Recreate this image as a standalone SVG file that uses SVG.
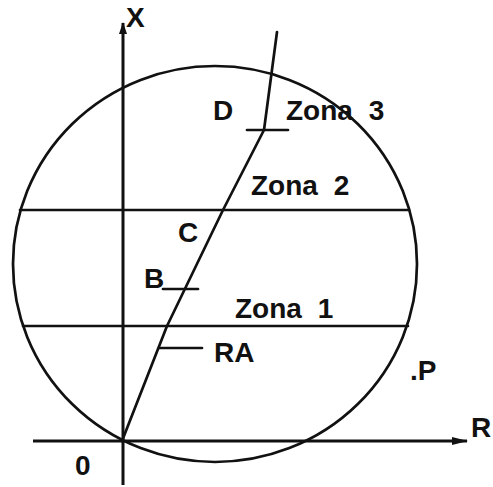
<svg xmlns="http://www.w3.org/2000/svg" width="493" height="487" viewBox="0 0 493 487">
  <style>
    .ln { fill: none; stroke: #111; stroke-width: 2.7; stroke-linecap: round; stroke-linejoin: round; }
    .ax { fill: none; stroke: #111; stroke-width: 3; }
    .tx { font-family: "Liberation Sans", Arial, sans-serif; font-size: 28px; font-weight: bold; fill: #111; }
    .zn { word-spacing: 8px; }
  </style>
  <defs>
    <marker id="arr" viewBox="0 0 12 8" refX="11" refY="4" markerWidth="12" markerHeight="8" markerUnits="userSpaceOnUse" orient="auto">
      <path d="M0,0 L12,4 L0,8 Z" fill="#111"/>
    </marker>
    <marker id="arrR" viewBox="0 0 16 9" refX="15" refY="4.5" markerWidth="16" markerHeight="9" markerUnits="userSpaceOnUse" orient="auto">
      <path d="M0,0.5 L16,4.5 L0,8.5 Z" fill="#111"/>
    </marker>
  </defs>

  <g id="circle">
    <ellipse class="ln" cx="215" cy="264" rx="202" ry="198"/>
  </g>

  <g id="zone-lines">
    <line class="ln" x1="20" y1="210" x2="409" y2="210"/>
    <line class="ln" x1="23" y1="326" x2="408" y2="326"/>
  </g>

  <g id="axes">
    <line class="ax" x1="123" y1="485" x2="123" y2="23" marker-end="url(#arr)"/>
    <line class="ax" x1="33" y1="441" x2="467" y2="441" marker-end="url(#arrR)"/>
  </g>

  <g id="connectors">
    <polyline class="ln" stroke-width="3" points="122,441 167,326 223,210 264,130 277,32"/>
    <line class="ln" x1="247" y1="130" x2="288" y2="130"/>
    <line class="ln" x1="163" y1="289" x2="198" y2="289"/>
    <line class="ln" x1="159" y1="348" x2="202" y2="348"/>
  </g>

  <g id="labels">
    <text class="tx" x="126" y="27">X</text>
    <text class="tx" x="213" y="120">D</text>
    <text class="tx zn" x="286" y="120">Zona 3</text>
    <text class="tx zn" x="251" y="195">Zona 2</text>
    <text class="tx" x="178" y="242">C</text>
    <text class="tx" x="144" y="288">B</text>
    <text class="tx zn" x="235" y="318">Zona 1</text>
    <text class="tx" x="214" y="362">RA</text>
    <text class="tx" x="410" y="380">.P</text>
    <text class="tx" x="471" y="437">R</text>
    <text class="tx" x="75" y="475">0</text>
  </g>
</svg>
